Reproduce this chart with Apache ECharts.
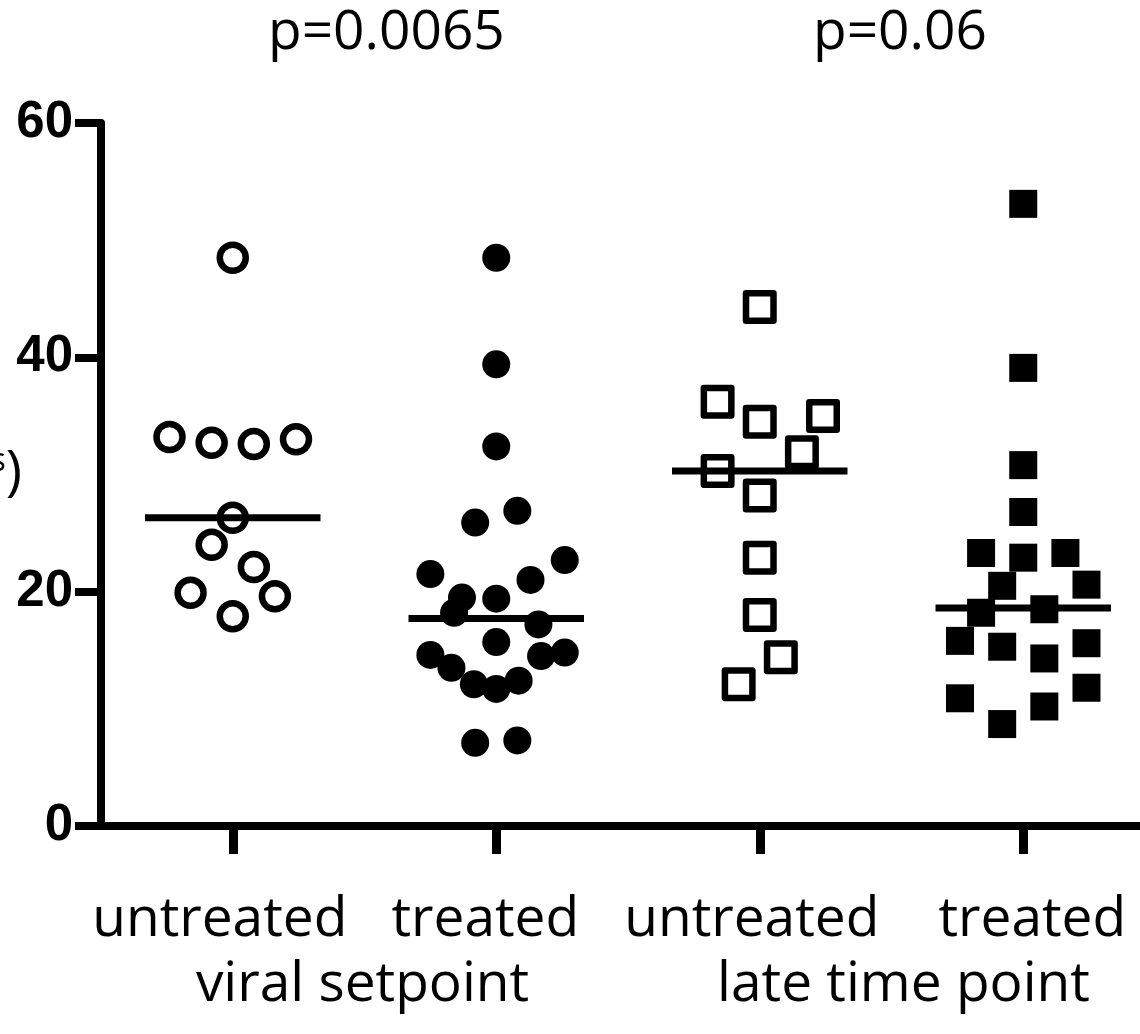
<!DOCTYPE html>
<html>
<head>
<meta charset="utf-8">
<script src="https://cdn.jsdelivr.net/npm/echarts@6/dist/echarts.min.js"></script>
<style>
html,body{margin:0;padding:0;background:#fff;}
#chart{width:1140px;height:1034px;}
</style>
</head>
<body>
<div id="chart"></div>
<script>
// ---- data ----
var categories = ['untreated', 'treated', 'untreated', 'treated'];
var groupLabels = ['viral setpoint', 'late time point'];
var pValues = ['p=0.0065', 'p=0.06'];
var yMin = 0, yMax = 60, yInterval = 20;

// viral setpoint, untreated (open circles)
var g1Values = [48.5, 33.2, 32.7, 32.6, 33.0, 26.3, 24.0, 22.1, 19.9, 19.6, 17.9];
var g1Jitter = [0, -0.24, -0.08, 0.08, 0.24, 0, -0.08, 0.08, -0.16, 0.16, 0];
// viral setpoint, treated (filled circles)
var g2Values = [48.5, 39.4, 32.4, 25.9, 26.9, 21.5, 22.7, 21.0, 19.5, 19.4, 18.2, 17.2, 15.7, 14.6, 13.5, 14.5, 14.8, 12.1, 11.7, 12.4, 7.1, 7.3];
var g2Jitter = [0, 0, 0, -0.08, 0.08, -0.25, 0.26, 0.13, -0.13, 0, -0.16, 0.16, 0, -0.25, -0.17, 0.17, 0.26, -0.085, 0, 0.085, -0.08, 0.08];
// late time point, untreated (open squares)
var g3Values = [44.3, 36.2, 34.5, 35.0, 31.9, 30.3, 28.2, 22.9, 18.0, 14.4, 12.1];
var g3Jitter = [0, -0.16, 0, 0.24, 0.16, -0.16, 0, 0, 0, 0.08, -0.08];
// late time point, treated (filled squares)
var g4Values = [53.1, 39.1, 30.8, 26.8, 23.3, 22.9, 23.3, 20.5, 20.6, 18.2, 18.5, 15.8, 15.3, 15.6, 14.3, 10.9, 11.8, 10.2, 8.7];
var g4Jitter = [0, 0, 0, 0, -0.16, 0, 0.16, -0.08, 0.24, -0.16, 0.08, -0.24, -0.08, 0.24, 0.08, -0.24, 0.24, 0.08, -0.08];

var medians = [26.3, 17.7, 30.3, 18.6];
var medianHalfWidth = 0.333;

// ---- build ----
function pts(groupIndex, vals, jit) {
  return vals.map(function (v, i) { return [groupIndex + 1 + jit[i], v]; });
}
var FONT = 'Open Sans';
var FS = 55;
// small label nudges (padding) to mimic the original placement
var catPads = [[0, 26, 0, 0], [0, 22, 0, 0], [0, 16, 0, 0], [0, 0, 0, 18]];
var grpPads = [[0, 4, 0, 0], [0, 0, 0, 24]];
var catData = categories.map(function (c, i) { return { value: c, textStyle: { padding: catPads[i] } }; });
var grpData = groupLabels.map(function (c, i) { return { value: c, textStyle: { padding: grpPads[i] } }; });

var groups = [
  { vals: g1Values, jit: g1Jitter, symbol: 'circle', size: 26, fill: 'rgba(0,0,0,0)', bw: 6.5 },
  { vals: g2Values, jit: g2Jitter, symbol: 'circle', size: 28, fill: '#000', bw: 0 },
  { vals: g3Values, jit: g3Jitter, symbol: 'rect', size: 27.5, fill: 'rgba(0,0,0,0)', bw: 6.5 },
  { vals: g4Values, jit: g4Jitter, symbol: 'rect', size: 28, fill: '#000', bw: 0 }
];
var series = [];
groups.forEach(function (g, gi) {
  series.push({
    type: 'scatter', xAxisIndex: 1, yAxisIndex: 0,
    data: pts(gi, g.vals, g.jit),
    symbol: g.symbol, symbolSize: g.size,
    itemStyle: { color: g.fill, borderColor: '#000', borderWidth: g.bw, borderJoin: 'round', opacity: 1 },
    emphasis: { disabled: true }, silent: true, z: 3
  });
});
medians.forEach(function (m, gi) {
  series.push({
    type: 'line', xAxisIndex: 1, yAxisIndex: 0,
    data: [[gi + 1 - medianHalfWidth, m], [gi + 1 + medianHalfWidth, m]],
    symbol: 'none', lineStyle: { color: '#000', width: 7, cap: 'butt' },
    silent: true, z: 4, animation: false
  });
});

var chart = echarts.init(document.getElementById('chart'), null, { renderer: 'canvas' });
chart.setOption({
  animation: false,
  backgroundColor: '#fff',
  grid: { left: 101, top: 123, width: 1054, height: 703, containLabel: false, outerBoundsMode: 'none' },
  xAxis: [
    {
      type: 'category', data: catData, boundaryGap: true, position: 'bottom',
      axisLine: { show: true, onZero: false, lineStyle: { color: '#000', width: 8 } },
      axisTick: { show: true, alignWithLabel: true, length: 28, lineStyle: { color: '#000', width: 9 } },
      axisLabel: { show: true, color: '#000', fontFamily: FONT, fontSize: FS, margin: 67, interval: 0 },
      splitLine: { show: false }
    },
    {
      type: 'value', min: 0.5, max: 4.5, show: false
    },
    {
      type: 'category', data: grpData, boundaryGap: true, position: 'bottom',
      axisLine: { show: false }, axisTick: { show: false }, splitLine: { show: false },
      axisLabel: { show: true, color: '#000', fontFamily: FONT, fontSize: FS, margin: 132, interval: 0 }
    }
  ],
  yAxis: [{
    type: 'value', min: yMin, max: yMax, interval: yInterval,
    axisLine: { show: true, onZero: false, lineStyle: { color: '#000', width: 8 } },
    axisTick: { show: true, length: 26, lineStyle: { color: '#000', width: 8 } },
    axisLabel: { color: '#000', fontFamily: 'Liberation Sans', fontWeight: 'bold', fontSize: 51, margin: 28 },
    splitLine: { show: false }
  }],
  graphic: [
    { type: 'text', left: 268, top: 6, style: { text: pValues[0], font: FS + 'px "' + FONT + '"', fill: '#000' } },
    { type: 'text', left: 813, top: 6, style: { text: pValues[1], font: FS + 'px "' + FONT + '"', fill: '#000' } },
    { type: 'text', right: 1118, top: 446, style: { text: '{sup|s})', font: FS + 'px "' + FONT + '"', fill: '#000',
        rich: { sup: { fontFamily: FONT, fontSize: 32, verticalAlign: 'top', padding: [0, 0, 22, 0] } } } }
  ],
  series: series
});
</script>
</body>
</html>
